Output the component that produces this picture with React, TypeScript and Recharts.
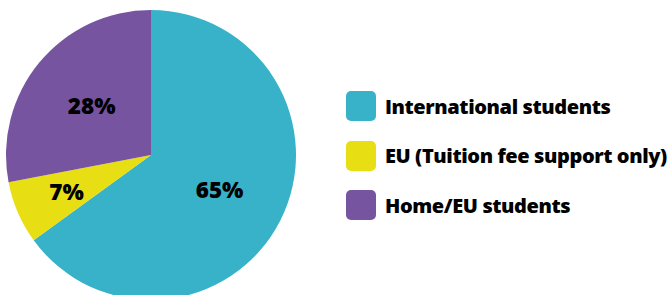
import { PieChart, Pie, Cell, Legend } from 'recharts';

const categories = ['International students', 'EU (Tuition fee support only)', 'Home/EU students'];
const shares = [65, 7, 28];
const colours = ['#38B2C8', '#E8DE14', '#7654A0'];

const data = categories.map((name, i) => ({ name, value: shares[i] }));

const RAD = Math.PI / 180;

// labels sit inside the slices; the thin slice gets pushed out a bit
const renderLabel = (props: any) => {
  const { cx, cy, midAngle, value } = props;
  const r = value < 10 ? 92 : 77;
  const x = cx + r * Math.cos(-midAngle * RAD);
  const y = cy + r * Math.sin(-midAngle * RAD);
  return (
    <text
      x={x}
      y={y}
      textAnchor="middle"
      dominantBaseline="central"
      fill="#000"
      fontSize={22.5}
      fontWeight={800}
      fontFamily="'Open Sans', sans-serif"
    >
      {`${value}%`}
    </text>
  );
};

const renderLegend = () => (
  <div style={{ fontFamily: "'Open Sans', sans-serif" }}>
    {data.map((d, i) => (
      <div key={d.name} style={{ display: 'flex', alignItems: 'center', height: 30, marginBottom: 19.5 }}>
        <div style={{ width: 30, height: 30, borderRadius: 5, background: colours[i], marginRight: 9 }} />
        <span style={{ fontSize: 20, fontWeight: 800, color: '#000', letterSpacing: -0.4, whiteSpace: 'nowrap' }}>{d.name}</span>
      </div>
    ))}
  </div>
);

export default function App() {
  return (
    <div style={{ position: 'absolute', left: 0, top: 0, background: '#fff' }}>
      <PieChart width={668} height={295} margin={{ top: 0, right: 0, bottom: 0, left: 0 }}>
        <Pie
          data={data}
          dataKey="value"
          cx={151}
          cy={155}
          outerRadius={145}
          startAngle={90}
          endAngle={-270}
          stroke="none"
          label={renderLabel}
          labelLine={false}
          isAnimationActive={false}
        >
          {data.map((d, i) => (
            <Cell key={d.name} fill={colours[i]} />
          ))}
        </Pie>
        <Legend
          content={renderLegend}
          wrapperStyle={{ position: 'absolute', left: 346, top: 91, width: 322 }}
        />
      </PieChart>
    </div>
  );
}
